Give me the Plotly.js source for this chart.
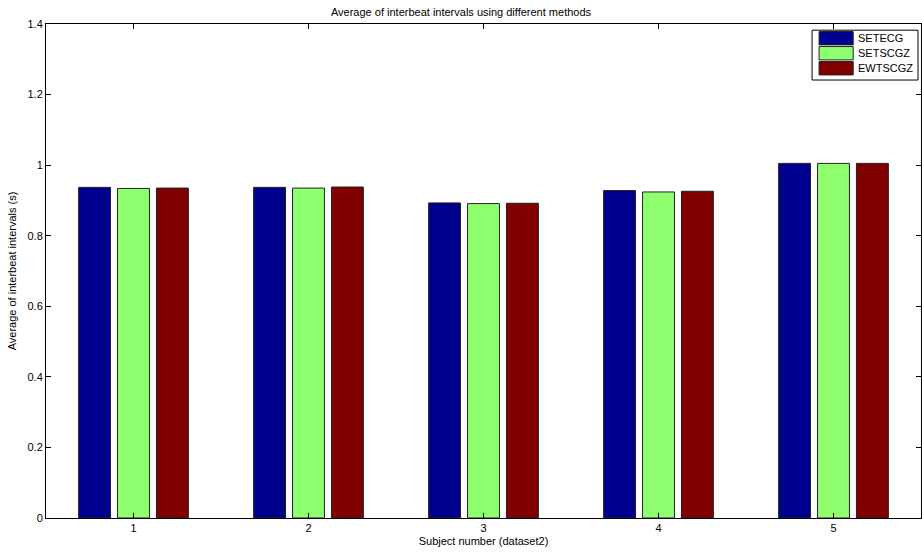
<!DOCTYPE html>
<html><head><meta charset="utf-8">
<script src="https://cdn.plot.ly/plotly-3.0.1.min.js"></script>
<style>body{margin:0;padding:0;background:#fff}#chart{width:922px;height:552px}</style>
</head><body><div id="chart"></div>
<script>
var subjects = [1, 2, 3, 4, 5];
var seriesNames = ['SETECG', 'SETSCGZ', 'EWTSCGZ'];
var setecg  = [0.937, 0.937, 0.893, 0.928, 1.005];
var setscgz = [0.934, 0.935, 0.891, 0.924, 1.005];
var ewtscgz = [0.935, 0.938, 0.892, 0.926, 1.005];
var colors = ['#00008f', '#8fff6f', '#800000'];
var seriesValues = [setecg, setscgz, ewtscgz];

var font = 'Liberation Sans, Arial, Helvetica, sans-serif';
var traces = seriesValues.map(function(v, i){
  return {type:'bar', x:subjects, y:v, name:seriesNames[i], showlegend:false,
    marker:{color:colors[i], line:{color:'#222', width:1}}};
});

// custom MATLAB-style legend
var shapes = [{type:'rect', xref:'paper', yref:'paper', x0:0.8755, x1:0.9966, y0:0.8866, y1:0.9875,
  line:{color:'#000', width:1}, fillcolor:'#fff', layer:'above'}];
var annotations = [];
seriesNames.forEach(function(n, i){
  var yc = 0.9712 - i*0.0304;
  shapes.push({type:'rect', xref:'paper', yref:'paper', x0:0.8835, x1:0.9225,
    y0:yc-0.0135, y1:yc+0.0135, fillcolor:colors[i], line:{color:'#222', width:1}, layer:'above'});
  annotations.push({xref:'paper', yref:'paper', x:0.9255, y:yc, xanchor:'left', yanchor:'middle',
    text:n, showarrow:false, font:{family:font, size:11, color:'#000'}});
});

var layout = {
  width:922, height:552,
  margin:{l:46, r:1, t:24, b:34},
  paper_bgcolor:'#fff', plot_bgcolor:'#fff',
  font:{family:font, size:11, color:'#000'},
  title:{text:'Average of interbeat intervals using different methods', x:0.5, xanchor:'center', y:0.978, yanchor:'middle', font:{family:font, size:11, color:'#000'}},
  barmode:'group', bargap:0.333, bargroupgap:0.18,
  xaxis:{range:[0.5,5.5], tickvals:subjects, ticktext:subjects.map(String), ticks:'inside', ticklen:5, tickcolor:'#000',
    showline:true, linecolor:'#000', linewidth:1, mirror:'ticks', showgrid:false, zeroline:false,
    title:{text:'Subject number (dataset2)', standoff:4, font:{family:font, size:11, color:'#000'}}, tickfont:{family:font, size:11}},
  yaxis:{range:[0,1.4], tickvals:[0,0.2,0.4,0.6,0.8,1,1.2,1.4], ticktext:['0','0.2','0.4','0.6','0.8','1','1.2','1.4'],
    ticks:'inside', ticklen:5, tickcolor:'#000', showline:true, linecolor:'#000', linewidth:1, mirror:'ticks', showgrid:false, zeroline:false,
    title:{text:'Average of interbeat intervals (s)', standoff:8, font:{family:font, size:11, color:'#000'}}, tickfont:{family:font, size:11}},
  shapes:shapes, annotations:annotations, showlegend:false
};
Plotly.newPlot('chart', traces, layout, {displayModeBar:false, staticPlot:true});
</script></body></html>
